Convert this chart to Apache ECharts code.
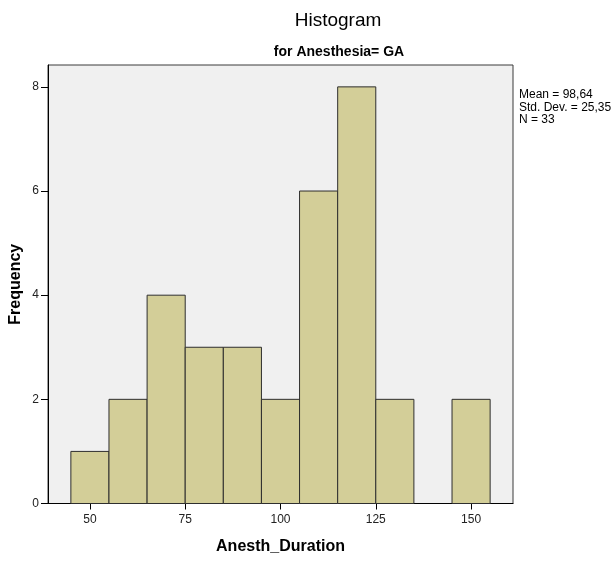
<!DOCTYPE html>
<html>
<head>
<meta charset="utf-8">
<script src="https://cdn.jsdelivr.net/npm/echarts@6/dist/echarts.min.js"></script>
<style>
html,body{margin:0;padding:0;background:#fff;}
#chart{width:616px;height:561px;}
</style>
</head>
<body>
<div id="chart"></div>
<script>
// ---- data ----
var binStarts = [45, 55, 65, 75, 85, 95, 105, 115, 125, 135, 145];
var binWidth = 10;
var counts = [1, 2, 4, 3, 3, 2, 6, 8, 2, 0, 2];
var xTicks = [50, 75, 100, 125, 150];
var yTicks = [0, 2, 4, 6, 8];
var statsLines = ['Mean = 98,64', 'Std. Dev. = 25,35', 'N = 33'];
var titleText = 'Histogram';
var subtitleText = 'for Anesthesia= GA';
var xName = 'Anesth_Duration';
var yName = 'Frequency';

var FONT = '"Liberation Sans", Arial, sans-serif';
var seriesData = binStarts.map(function (s, i) { return [s, s + binWidth, counts[i]]; });

var chart = echarts.init(document.getElementById('chart'), null, {renderer: 'canvas'});
chart.setOption({
  animation: false,
  backgroundColor: '#ffffff',
  textStyle: {fontFamily: FONT},
  grid: {
    left: 48, top: 65, width: 465, height: 438.5,
    show: true, backgroundColor: '#f0f0f0', borderColor: '#3a3a3a', borderWidth: 1,
    containLabel: false, outerBoundsMode: 'none'
  },
  graphic: [
    {type: 'text', x: 338, y: 21, style: {text: titleText, font: 'normal 19px ' + FONT, fill: '#000', align: 'center', verticalAlign: 'middle'}},
    {type: 'text', x: 339, y: 52, style: {text: subtitleText, font: 'bold 14px ' + FONT, fill: '#000', align: 'center', verticalAlign: 'middle'}},
    {type: 'text', x: 519, y: 89, style: {text: statsLines.join('\n'), font: 'normal 12px ' + FONT, lineHeight: 12.3, fill: '#000', align: 'left', verticalAlign: 'top'}}
  ],
  xAxis: {
    type: 'value', min: 39, max: 161,
    name: xName, nameLocation: 'middle', nameGap: 35, nameMoveOverlap: false,
    nameTextStyle: {fontFamily: FONT, fontWeight: 'bold', fontSize: 16, color: '#000'},
    axisLine: {show: true, onZero: false, lineStyle: {color: '#000', width: 1}},
    axisTick: {show: true, length: 6, customValues: xTicks, lineStyle: {color: '#000'}},
    axisLabel: {show: true, margin: 10, customValues: xTicks, fontSize: 12, color: '#222', fontFamily: FONT},
    splitLine: {show: false}
  },
  yAxis: {
    type: 'value', min: 0, max: 8.42,
    name: yName, nameLocation: 'middle', nameGap: 24, nameRotate: 90, nameMoveOverlap: false,
    nameTextStyle: {fontFamily: FONT, fontWeight: 'bold', fontSize: 16, color: '#000'},
    axisLine: {show: true, onZero: false, lineStyle: {color: '#000', width: 1}},
    axisTick: {show: true, length: 7, customValues: yTicks, lineStyle: {color: '#000'}},
    axisLabel: {show: true, margin: 9, customValues: yTicks, fontSize: 12, color: '#222', fontFamily: FONT},
    splitLine: {show: false}
  },
  series: [{
    type: 'custom',
    data: seriesData,
    encode: {x: [0, 1], y: 2},
    renderItem: function (params, api) {
      var c = api.value(2);
      if (!c) return null;
      var p0 = api.coord([api.value(0), c]);
      var p1 = api.coord([api.value(1), 0]);
      return {
        type: 'rect',
        shape: {x: p0[0], y: p0[1], width: p1[0] - p0[0], height: p1[1] - p0[1]},
        style: {fill: '#d3ce98', stroke: '#2e2e2e', lineWidth: 1}
      };
    }
  }]
});
</script>
</body>
</html>
